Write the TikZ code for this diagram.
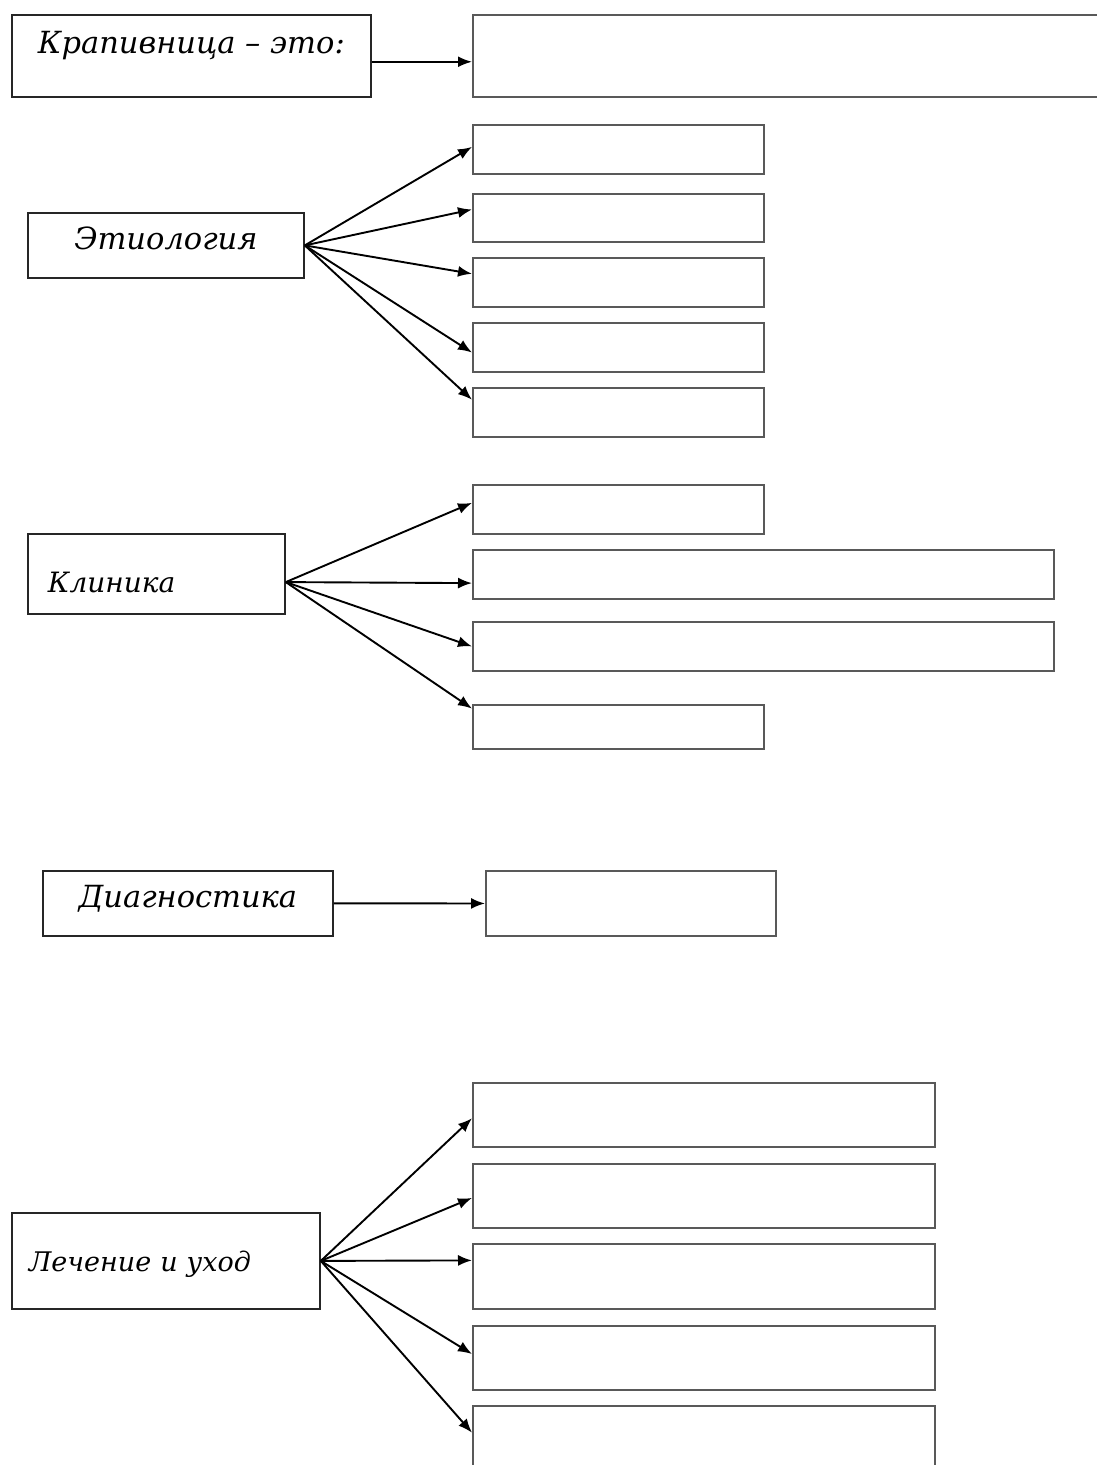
\documentclass[tikz,border=0pt]{standalone}
\usepackage{fontspec}
\setmainfont{DejaVu Serif}
\usetikzlibrary{positioning, calc, arrows.meta}
\tikzstyle{Arrow} = [
    line width = 1.9pt,
    -{Latex[length=14pt, width=11pt]}
]

\begin{document}
\begin{tikzpicture}[
x = 1pt, y = -1pt,
topic/.style = {
    draw = black!85,
    line width = 1.8pt,
    anchor = north west,
    inner sep = 0pt,
    font = \fontsize{30.5}{36}\selectfont\itshape
    },
blank/.style = {
    draw = black!65,
    line width = 1.9pt,
    anchor = north west,
    inner sep = 0pt
    }
]
\useasboundingbox (0,0) rectangle (1096,1465);

% definition
\node [topic, minimum width = 359pt, minimum height = 82pt,
    text height = 22pt, text depth = 26pt] (krap) at (11,14) {Крапивница – это:};
\node [blank, minimum width = 700pt, minimum height = 82pt] (def) at (472,14) {};
\coordinate (krapout) at ($(krap.north east)!0.57!(krap.south east)$);
\draw[Arrow] (krapout) -- (krapout -| def.west);

% etiology
\node [topic, minimum width = 276pt, minimum height = 65pt,
    text height = 22pt, text depth = 13pt] (etio) at (27,212) {Этиология};
\node [blank, minimum width = 291pt, minimum height = 49pt] (e1) at (472,124) {};
\node [blank, minimum width = 291pt, minimum height = 48pt] (e2) at (472,193) {};
\node [blank, minimum width = 291pt, minimum height = 49pt] (e3) at (472,257) {};
\node [blank, minimum width = 291pt, minimum height = 49pt] (e4) at (472,322) {};
\node [blank, minimum width = 291pt, minimum height = 49pt] (e5) at (472,387) {};

\draw[Arrow] (etio.east) -- ($(e1.north west)!0.45!(e1.south west)$);
\draw[Arrow] (etio.east) -- ($(e2.north west)!0.33!(e2.south west)$);
\draw[Arrow] (etio.east) -- ($(e3.north west)!0.33!(e3.south west)$);
\draw[Arrow] (etio.east) -- ($(e4.north west)!0.6!(e4.south west)$);
\draw[Arrow] (etio.east) -- ($(e5.north west)!0.25!(e5.south west)$);

% clinic
\node [topic, minimum width = 257pt, minimum height = 80pt,
    text height = 38pt, text depth = 0pt,
    font = \fontsize{28}{34}\selectfont\itshape,
    text width = 217pt, align = left] (klin) at (27,533) {Клиника};
\node [blank, minimum width = 291pt, minimum height = 49pt] (k1) at (472,484) {};
\node [blank, minimum width = 581pt, minimum height = 49pt] (k2) at (472,549) {};
\node [blank, minimum width = 581pt, minimum height = 49pt] (k3) at (472,621) {};
\node [blank, minimum width = 291pt, minimum height = 44pt] (k4) at (472,704) {};
\coordinate (klinout) at ($(klin.north east)!0.6!(klin.south east)$);

\draw[Arrow] (klinout) -- ($(k1.north west)!0.37!(k1.south west)$);
\draw[Arrow] (klinout) -- ($(k2.north west)!0.67!(k2.south west)$);
\draw[Arrow] (klinout) -- (k3.west);
\draw[Arrow] (klinout) -- ($(k4.north west)!0.1!(k4.south west)$);

% diagnostics
\node [topic, minimum width = 290pt, minimum height = 65pt,
    text height = 22pt, text depth = 13pt] (diag) at (42,870) {Диагностика};
\node [blank, minimum width = 290pt, minimum height = 65pt] (d1) at (485,870) {};
\draw[Arrow] (diag.east) -- (d1.west);

% treatment and care
\node [topic, minimum width = 308pt, minimum height = 96pt,
    text height = 30pt, text depth = 8pt,
    font = \fontsize{27}{32}\selectfont\itshape,
    text width = 274pt, align = left] (lech) at (11,1212) {Лечение и уход};
\node [blank, minimum width = 462pt, minimum height = 64pt] (l1) at (472,1082) {};
\node [blank, minimum width = 462pt, minimum height = 64pt] (l2) at (472,1163) {};
\node [blank, minimum width = 462pt, minimum height = 65pt] (l3) at (472,1243) {};
\node [blank, minimum width = 462pt, minimum height = 64pt] (l4) at (472,1325) {};
\node [blank, minimum width = 462pt, minimum height = 64pt] (l5) at (472,1405) {};

\draw[Arrow] (lech.east) -- ($(l1.north west)!0.55!(l1.south west)$);
\draw[Arrow] (lech.east) -- ($(l2.north west)!0.53!(l2.south west)$);
\draw[Arrow] (lech.east) -- ($(l3.north west)!0.26!(l3.south west)$);
\draw[Arrow] (lech.east) -- ($(l4.north west)!0.44!(l4.south west)$);
\draw[Arrow] (lech.east) -- ($(l5.north west)!0.42!(l5.south west)$);

\end{tikzpicture}
\end{document}
